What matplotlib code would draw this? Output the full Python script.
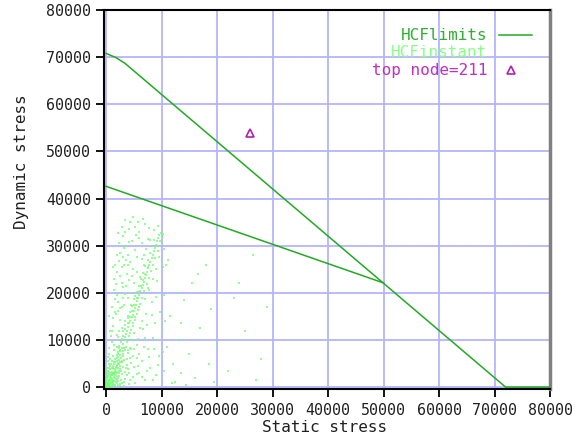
import matplotlib
matplotlib.use('Agg')
import matplotlib.pyplot as plt
from matplotlib.transforms import Bbox, TransformedBbox

# HCF limit lines (static stress, dynamic stress)
limit1_x = [0, 1800, 3400, 72000, 72600, 80000]
limit1_y = [70800, 69900, 68700, 0, 0, 0]
limit2_x = [0, 50000]
limit2_y = [42600, 22100]

# top node
top_x = [26000]
top_y = [54000]
top_label = 'top node=211'

# HCFinstant points, in thousands
core_pts = [(0.1, 0.2), (0.2, 0.5), (0.3, 0.1), (0.4, 0.8), (0.5, 0.3), (0.6, 1.2), (0.7, 0.6), (0.8, 1.5),
            (0.9, 0.9), (1.0, 0.4), (1.1, 1.8), (1.2, 1.1), (1.3, 0.7), (1.4, 2.2), (1.5, 1.4), (1.6, 0.5),
            (1.7, 2.6), (1.8, 1.7), (1.9, 0.9), (2.0, 3.0), (2.1, 2.0), (2.2, 1.2), (2.3, 3.4), (2.4, 2.4),
            (2.5, 0.6), (2.6, 3.8), (2.7, 1.6), (2.8, 2.8), (2.9, 0.8), (3.0, 4.2), (0.2, 1.0), (0.3, 1.6),
            (0.4, 2.1), (0.5, 2.7), (0.6, 3.3), (0.7, 3.9), (0.8, 4.4), (0.9, 5.0), (1.0, 5.6), (0.5, 4.8),
            (0.3, 3.0), (0.2, 2.4), (0.15, 0.7), (0.35, 0.45), (0.55, 0.9), (0.75, 1.3), (0.95, 1.95),
            (1.15, 2.5), (1.35, 3.1), (1.55, 3.6), (1.75, 4.1), (1.95, 4.7), (2.15, 5.2), (2.35, 5.8),
            (1.25, 4.0), (1.45, 4.8), (1.65, 5.3), (1.05, 3.3), (0.85, 2.6), (0.65, 2.0), (0.45, 1.4),
            (0.25, 0.3), (0.1, 0.9), (0.6, 0.15), (1.1, 0.2), (1.7, 0.3), (2.2, 0.4), (3.2, 1.0), (3.5, 1.8),
            (3.8, 2.5), (4.1, 0.7), (3.4, 3.2), (4.4, 1.5), (4.8, 2.2), (3.7, 4.6), (2.9, 5.3), (4.0, 3.8),
            (4.5, 5.1), (5.2, 0.9), (5.5, 2.8), (2.6, 0.2), (3.3, 0.3), (1.9, 6.2), (1.3, 6.5), (0.8, 6.0),
            (0.4, 5.5), (0.6, 7.0), (0.3, 6.4), (0.2, 4.0), (0.1, 3.5), (0.05, 0.1), (0.12, 0.35),
            (0.22, 0.15), (0.32, 0.7), (0.42, 0.25), (0.52, 1.6), (0.62, 0.5), (0.72, 2.3), (0.82, 0.3),
            (0.92, 3.0), (1.02, 1.2), (1.12, 0.8), (1.22, 2.9), (1.32, 1.6), (1.42, 0.3), (1.52, 2.7),
            (1.62, 1.9), (1.72, 1.1), (1.82, 3.3), (1.92, 2.4), (2.02, 1.5), (2.12, 4.0), (2.32, 2.9),
            (2.52, 4.5), (2.72, 3.5), (0.08, 1.4), (0.18, 1.9), (0.28, 2.6), (0.38, 3.4), (0.48, 4.1)]

streak_pts = [(2.5, 7.6), (3.0, 7.7), (3.5, 7.8), (4.0, 7.9), (4.5, 8.0), (5.0, 8.1), (2.8, 5.6),
              (3.3, 5.8), (3.8, 6.0), (4.3, 6.1), (2.2, 7.0), (3.1, 6.6)]

band_pts = [(1.0, 2.5), (1.2, 3.0), (1.5, 3.8), (1.3, 4.5), (1.8, 4.2), (2.0, 5.5), (1.7, 5.9), (2.2, 6.3),
            (2.5, 6.8), (2.1, 7.4), (2.6, 7.9), (2.9, 8.2), (2.4, 8.8), (3.0, 9.1), (3.2, 9.9), (2.8, 10.3),
            (3.4, 10.6), (3.6, 11.2), (3.1, 11.8), (3.8, 12.0), (4.0, 12.7), (3.5, 13.1), (4.2, 13.5),
            (4.4, 14.0), (3.9, 14.6), (4.6, 14.8), (4.8, 15.4), (4.3, 15.9), (5.0, 16.1), (5.2, 16.8),
            (4.7, 17.3), (5.4, 17.5), (5.6, 18.2), (5.1, 18.7), (5.8, 18.9), (6.0, 19.6), (5.5, 20.1),
            (6.2, 20.3), (6.4, 21.0), (5.9, 21.5), (6.6, 21.7), (6.8, 22.4), (6.3, 22.9), (7.0, 23.1),
            (7.2, 23.8), (6.7, 24.2), (7.4, 24.5), (7.6, 25.2), (7.1, 25.6), (7.8, 26.0), (8.0, 26.6),
            (7.5, 27.0), (8.2, 27.4), (8.4, 28.0), (7.9, 28.4), (8.6, 28.8), (8.8, 29.5), (8.3, 29.9),
            (9.0, 30.2), (9.2, 30.9), (8.7, 31.2), (9.4, 31.6), (9.6, 32.3), (9.9, 32.6), (10.2, 32.4),
            (9.7, 31.0), (10.0, 31.8), (9.3, 30.0), (1.6, 3.2), (2.3, 5.0), (2.7, 6.1), (3.3, 8.4),
            (3.7, 9.6), (4.1, 10.9), (4.5, 12.2), (4.9, 13.6), (5.3, 14.9), (5.7, 16.3), (6.1, 17.6),
            (6.5, 19.0), (6.9, 20.4), (7.3, 21.8), (7.7, 23.2), (8.1, 24.6), (8.5, 26.0), (8.9, 27.4),
            (9.3, 28.8), (1.1, 4.0), (1.5, 5.3), (1.9, 6.9), (2.3, 8.2), (2.7, 9.6), (3.1, 10.9),
            (3.5, 12.3), (3.9, 13.6), (4.3, 14.9), (4.7, 16.2), (5.1, 17.5), (5.5, 18.9), (5.9, 20.2),
            (6.3, 21.5), (6.7, 22.8), (7.1, 24.1), (7.5, 25.4), (2.0, 4.5), (2.6, 5.4), (3.0, 7.0),
            (3.6, 8.6), (4.0, 10.0), (4.4, 11.5), (4.8, 12.9), (5.2, 14.3), (5.6, 15.6), (6.0, 17.0)]

cloud_pts = [(1.2, 13.0), (1.8, 15.5), (2.2, 18.0), (1.5, 20.5), (2.8, 22.0), (2.0, 24.5), (3.2, 26.0),
             (2.5, 28.5), (3.8, 30.0), (3.0, 32.0), (4.2, 33.5), (3.5, 35.5), (1.0, 17.0), (2.6, 14.2),
             (3.3, 17.5), (1.4, 23.0), (2.3, 26.8), (4.0, 28.0), (4.6, 31.0), (5.2, 34.0), (5.8, 35.0),
             (6.5, 30.5), (5.5, 27.5), (4.8, 25.0), (3.6, 21.5), (3.1, 19.0), (4.3, 20.0), (2.9, 12.5),
             (1.9, 11.0), (1.1, 9.5), (0.7, 12.0), (0.5, 15.0), (1.6, 26.0), (2.4, 30.5), (3.4, 33.0),
             (4.9, 36.0), (6.0, 33.0), (7.0, 34.5), (6.8, 28.0), (7.5, 31.5), (5.0, 22.0), (5.6, 24.5),
             (4.5, 17.5), (3.9, 15.0), (2.0, 8.5), (1.4, 7.8), (0.9, 10.8), (3.7, 24.0), (2.7, 20.0),
             (1.8, 21.8), (2.1, 16.2), (1.3, 14.6), (2.9, 17.0), (3.5, 19.8), (2.6, 23.5), (4.1, 22.8),
             (3.0, 27.5), (4.4, 26.5), (1.7, 18.6), (2.4, 12.0)]

haze_pts = [(0.6, 8.2), (1.0, 11.8), (1.5, 9.0), (2.2, 10.6), (2.5, 16.8), (1.6, 16.0), (3.4, 14.0),
            (2.0, 19.6), (3.0, 21.2), (4.0, 18.8), (2.8, 25.4), (3.6, 27.0), (4.6, 23.6), (5.3, 29.0),
            (4.2, 30.8), (3.2, 29.6), (5.9, 31.6), (6.4, 27.2), (7.2, 29.2), (8.0, 31.2), (8.6, 33.4),
            (9.4, 34.2), (7.8, 33.8), (6.6, 35.6), (5.4, 32.2), (4.4, 35.0), (2.8, 34.0), (2.2, 32.6),
            (1.9, 28.0), (1.2, 25.5), (3.9, 25.8), (5.2, 19.4), (6.2, 23.4), (7.0, 18.6), (7.6, 21.0),
            (8.4, 23.0), (9.0, 25.0), (9.6, 27.6), (10.4, 29.4), (10.8, 26.0), (8.2, 15.2), (9.0, 19.2),
            (6.6, 12.4), (7.4, 13.2), (5.8, 10.2), (6.8, 8.6), (7.8, 6.4), (8.6, 8.0), (9.6, 10.0),
            (10.6, 14.0), (4.6, 10.0), (3.6, 4.0), (4.2, 3.0), (5.0, 4.2), (5.6, 6.2), (6.4, 2.2),
            (7.4, 3.4), (8.4, 1.6), (9.4, 4.6), (10.2, 7.4)]

sparse_pts = [(6.0, 3.0), (6.5, 5.5), (7.0, 1.5), (7.5, 8.0), (8.0, 4.0), (8.5, 10.5), (9.0, 2.5),
              (9.5, 6.5), (10.0, 12.0), (10.5, 3.5), (11.0, 8.5), (11.5, 15.0), (12.0, 5.0), (12.5, 1.0),
              (13.0, 10.0), (13.5, 3.0), (14.0, 18.5), (15.0, 7.0), (15.5, 22.0), (16.0, 2.0), (17.0, 12.5),
              (18.0, 26.0), (18.5, 5.0), (19.0, 16.5), (20.0, 9.0), (21.0, 30.0), (22.0, 3.5), (23.0, 19.0),
              (25.0, 12.0), (26.5, 28.0), (28.0, 6.0), (29.0, 17.0), (6.2, 12.5), (7.2, 15.5), (8.2, 18.0),
              (9.2, 22.5), (10.2, 25.5), (7.8, 20.5), (6.8, 26.0), (11.2, 27.0), (9.8, 16.0), (12.8, 20.0),
              (8.8, 13.5), (5.5, 9.0), (6.0, 7.0), (7.0, 10.5), (4.8, 6.5), (5.8, 4.5), (3.9, 7.2),
              (4.3, 8.3), (5.1, 11.5), (6.4, 14.0), (10.5, 19.5), (13.5, 13.5), (16.5, 24.0), (24.0, 22.0),
              (27.0, 1.5), (19.5, 1.0), (14.5, 0.5), (11.8, 0.8)]

instant_pts = core_pts + streak_pts + band_pts + cloud_pts + haze_pts + sparse_pts
inst_x = [p[0] * 1000 for p in instant_pts]
inst_y = [p[1] * 1000 for p in instant_pts]

ticks = [0, 10000, 20000, 30000, 40000, 50000, 60000, 70000, 80000]

plt.rcParams['font.family'] = ['DejaVu Sans Mono']
fig = plt.figure(figsize=(5.85, 4.36), dpi=100)
ax = fig.add_axes([0.1778, 0.1067, 0.7624, 0.8704])

ax.set_xlim(-360, 80000)
ax.set_ylim(-500, 80000)
ax.set_xticks(ticks)
ax.set_yticks(ticks)
ax.grid(True, color='#b4b4ff', linewidth=1.3)
ax.set_axisbelow(True)
ax.tick_params(direction='out', length=6, width=1.3, colors='black', labelsize=10.8, pad=3.5)
ax.tick_params(axis='x', labelcolor='#202020')
ax.tick_params(axis='y', labelcolor='#202020')

for s in ['left', 'bottom', 'top']:
    ax.spines[s].set_color('black')
    ax.spines[s].set_linewidth(1.5)
ax.spines['right'].set_color('#808080')
ax.spines['right'].set_linewidth(2.5)

ax.scatter(inst_x, inst_y, s=2.0, marker='s', color='#70ff70', linewidths=0, alpha=0.75, zorder=2)
ax.plot(limit1_x, limit1_y, color='#22aa22', linewidth=1.1, zorder=3)
ax.plot(limit2_x, limit2_y, color='#22aa22', linewidth=1.1, zorder=3)
ax.plot(top_x, top_y, marker='^', markersize=6, markerfacecolor='none', markeredgecolor='#b020b0',
        markeredgewidth=1.2, linestyle='none', zorder=4)

# legend drawn by hand
ax.text(0.859, 0.934, 'HCFlimits', transform=ax.transAxes, ha='right', va='center',
        fontsize=11.5, color='#30b030')
ax.plot([0.886, 0.960], [0.934, 0.934], transform=ax.transAxes, color='#22aa22', linewidth=1.1)
t2 = ax.text(0.859, 0.889, 'HCFinstant', transform=ax.transAxes, ha='right', va='center',
             fontsize=11.5, color='#88ff88')
t2.set_clip_box(TransformedBbox(Bbox([[0, 0.876], [1, 1]]), ax.transAxes))
t2.set_clip_on(True)
ax.text(0.859, 0.840, top_label, transform=ax.transAxes, ha='right', va='center',
        fontsize=11.5, color='#c030c0')
ax.plot([0.912], [0.843], transform=ax.transAxes, marker='^', markersize=6, markerfacecolor='none',
        markeredgecolor='#b020b0', markeredgewidth=1.2, linestyle='none')

# axis titles
fig.text(325 / 585, 1 - 427 / 436, 'Static stress', ha='center', va='center',
         fontsize=11.5, color='#202020')
fig.text(22 / 585, 1 - 162 / 436, 'Dynamic stress', ha='center', va='center', rotation=90,
         fontsize=11.5, color='#202020')

fig.savefig('out.png', dpi=100)
